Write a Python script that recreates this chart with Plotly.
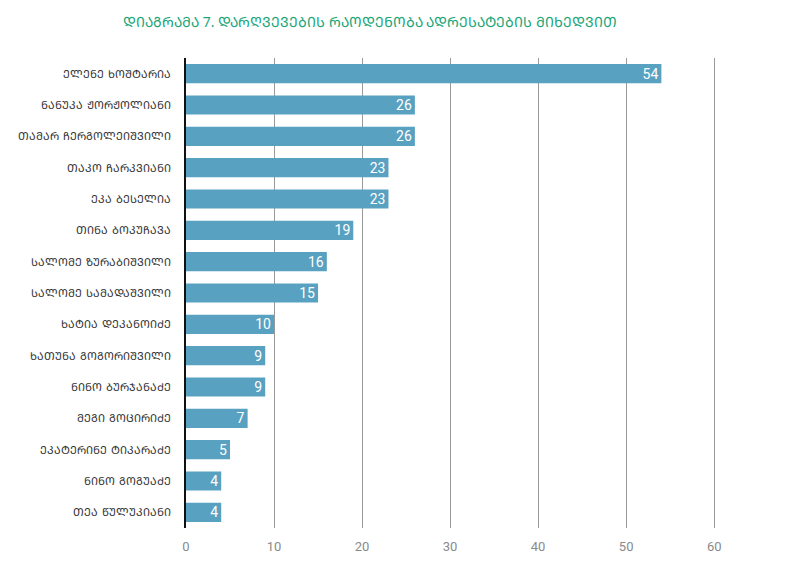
import plotly.graph_objects as go

title_text = "ᲓᲘᲐᲒᲠᲐᲛᲐ 7. ᲓᲐᲠᲦᲕᲔᲕᲔᲑᲘᲡ ᲠᲐᲝᲓᲔᲜᲝᲑᲐ ᲐᲓᲠᲔᲡᲐᲢᲔᲑᲘᲡ ᲛᲘᲮᲔᲓᲕᲘᲗ"
names = [
    "ᲔᲚᲔᲜᲔ ᲮᲝᲨᲢᲐᲠᲘᲐ",
    "ᲜᲐᲜᲣᲙᲐ ᲟᲝᲠᲟᲝᲚᲘᲐᲜᲘ",
    "ᲗᲐᲛᲐᲠ ᲩᲔᲠᲒᲝᲚᲔᲘᲨᲕᲘᲚᲘ",
    "ᲗᲐᲙᲝ ᲩᲐᲠᲙᲕᲘᲐᲜᲘ",
    "ᲔᲙᲐ ᲑᲔᲡᲔᲚᲘᲐ",
    "ᲗᲘᲜᲐ ᲑᲝᲙᲣᲩᲐᲕᲐ",
    "ᲡᲐᲚᲝᲛᲔ ᲖᲣᲠᲐᲑᲘᲨᲕᲘᲚᲘ",
    "ᲡᲐᲚᲝᲛᲔ ᲡᲐᲛᲐᲓᲐᲨᲕᲘᲚᲘ",
    "ᲮᲐᲢᲘᲐ ᲓᲔᲙᲐᲜᲝᲘᲫᲔ",
    "ᲮᲐᲗᲣᲜᲐ ᲒᲝᲒᲝᲠᲘᲨᲕᲘᲚᲘ",
    "ᲜᲘᲜᲝ ᲑᲣᲠᲯᲐᲜᲐᲫᲔ",
    "ᲛᲔᲒᲘ ᲒᲝᲪᲘᲠᲘᲫᲔ",
    "ᲔᲙᲐᲢᲔᲠᲘᲜᲔ ᲢᲘᲙᲐᲠᲐᲫᲔ",
    "ᲜᲘᲜᲝ ᲒᲝᲒᲣᲐᲫᲔ",
    "ᲗᲔᲐ ᲬᲣᲚᲣᲙᲘᲐᲜᲘ",
]
values = [54, 26, 26, 23, 23, 19, 16, 15, 10, 9, 9, 7, 5, 4, 4]
x_ticks = [0, 10, 20, 30, 40, 50, 60]

fig = go.Figure(
    go.Bar(
        x=values,
        y=names,
        orientation="h",
        marker=dict(color="#59A1C1", line=dict(width=0)),
        text=[str(v) for v in values],
        textposition="inside",
        insidetextanchor="end",
        textangle=0,
        constraintext="none",
        textfont=dict(color="white", size=14, family="Liberation Sans Narrow, Roboto, sans-serif"),
        cliponaxis=False,
    )
)

fig.update_layout(
    width=800,
    height=581,
    paper_bgcolor="white",
    plot_bgcolor="white",
    margin=dict(l=178, r=85, t=50, b=61, autoexpand=False),
    bargap=0.39,
    showlegend=False,
    title=dict(
        text=title_text,
        x=0.4525,
        xanchor="center",
        y=0.976,
        yanchor="middle",
        font=dict(color="#21A67A", size=14, family="Noto Sans, DejaVu Sans, sans-serif"),
    ),
)

fig.update_xaxes(
    range=[0, 61],
    tickvals=x_ticks,
    showgrid=True,
    gridcolor="#9A9A9A",
    gridwidth=1,
    zeroline=False,
    showline=False,
    ticks="",
    automargin=False,
    ticklabelstandoff=9,
    tickfont=dict(color="#8A8A8A", size=13, family="Liberation Sans Narrow, Roboto, sans-serif"),
)

fig.update_yaxes(
    autorange="reversed",
    showgrid=False,
    showline=True,
    linecolor="#111111",
    linewidth=2,
    ticks="",
    automargin=False,
    ticklabelstandoff=11,
    tickfont=dict(color="#333333", size=11, family="DejaVu Sans, Noto Sans, sans-serif"),
)

fig.write_html("out.html")
